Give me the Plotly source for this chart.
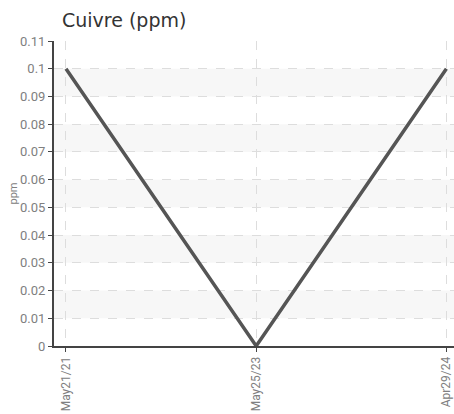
import plotly.graph_objects as go

dates = ["May21/21", "May25/23", "Apr29/24"]
values = [0.1, 0.0, 0.1]
y_ticks = [0, 0.01, 0.02, 0.03, 0.04, 0.05, 0.06, 0.07, 0.08, 0.09, 0.1, 0.11]
y_tick_text = ["0", "0.01", "0.02", "0.03", "0.04", "0.05", "0.06", "0.07", "0.08", "0.09", "0.1", "0.11"]

fig = go.Figure()
fig.add_trace(go.Scatter(x=list(range(len(dates))), y=values, mode="lines",
                         line=dict(color="#555555", width=3.5), hoverinfo="skip"))

shapes = []
for i in range(1, len(y_ticks) - 1, 2):
    shapes.append(dict(type="rect", xref="paper", yref="y", x0=0, x1=1,
                       y0=y_ticks[i], y1=y_ticks[i + 1], fillcolor="#f7f7f7",
                       line=dict(width=0), layer="below"))

ytickfont = dict(family="Liberation Sans Narrow, Roboto, sans-serif", size=13, color="#808080")
xtickfont = dict(family="Liberation Sans Narrow, Roboto, sans-serif", size=12, color="#808080")
fig.update_layout(
    width=454, height=414,
    margin=dict(l=54, r=0, t=41, b=68),
    paper_bgcolor="white", plot_bgcolor="white",
    showlegend=False,
    shapes=shapes,
    title=dict(text="Cuivre (ppm)", x=62 / 454, xanchor="left", y=1 - 20 / 414, yanchor="middle",
               font=dict(family="DejaVu Sans, sans-serif", size=19, color="#333333")),
    xaxis=dict(range=[-0.063, 2.04], tickmode="array", tickvals=list(range(len(dates))),
               ticktext=dates, tickangle=-90, tickfont=xtickfont, automargin=False,
               showgrid=True, gridcolor="#dddddd", griddash="dash", gridwidth=1,
               showline=True, linecolor="#444444", linewidth=2,
               ticks="outside", ticklen=4, tickcolor="#444444", zeroline=False),
    yaxis=dict(range=[0, 0.11], tickmode="array", tickvals=y_ticks, ticktext=y_tick_text,
               tickfont=ytickfont, showgrid=True, gridcolor="#dddddd", griddash="dash", gridwidth=1,
               showline=True, linecolor="#444444", linewidth=2, automargin=False,
               ticks="outside", ticklen=4, tickcolor="#444444", zeroline=False,
               title=dict(text="ppm", font=dict(family="Liberation Sans Narrow, Roboto, sans-serif",
                                               size=11, color="#808080"), standoff=0)),
)

fig.write_html("out.html", config={"displayModeBar": False},
               post_script="document.body.style.margin='0';document.body.style.overflow='hidden';")
